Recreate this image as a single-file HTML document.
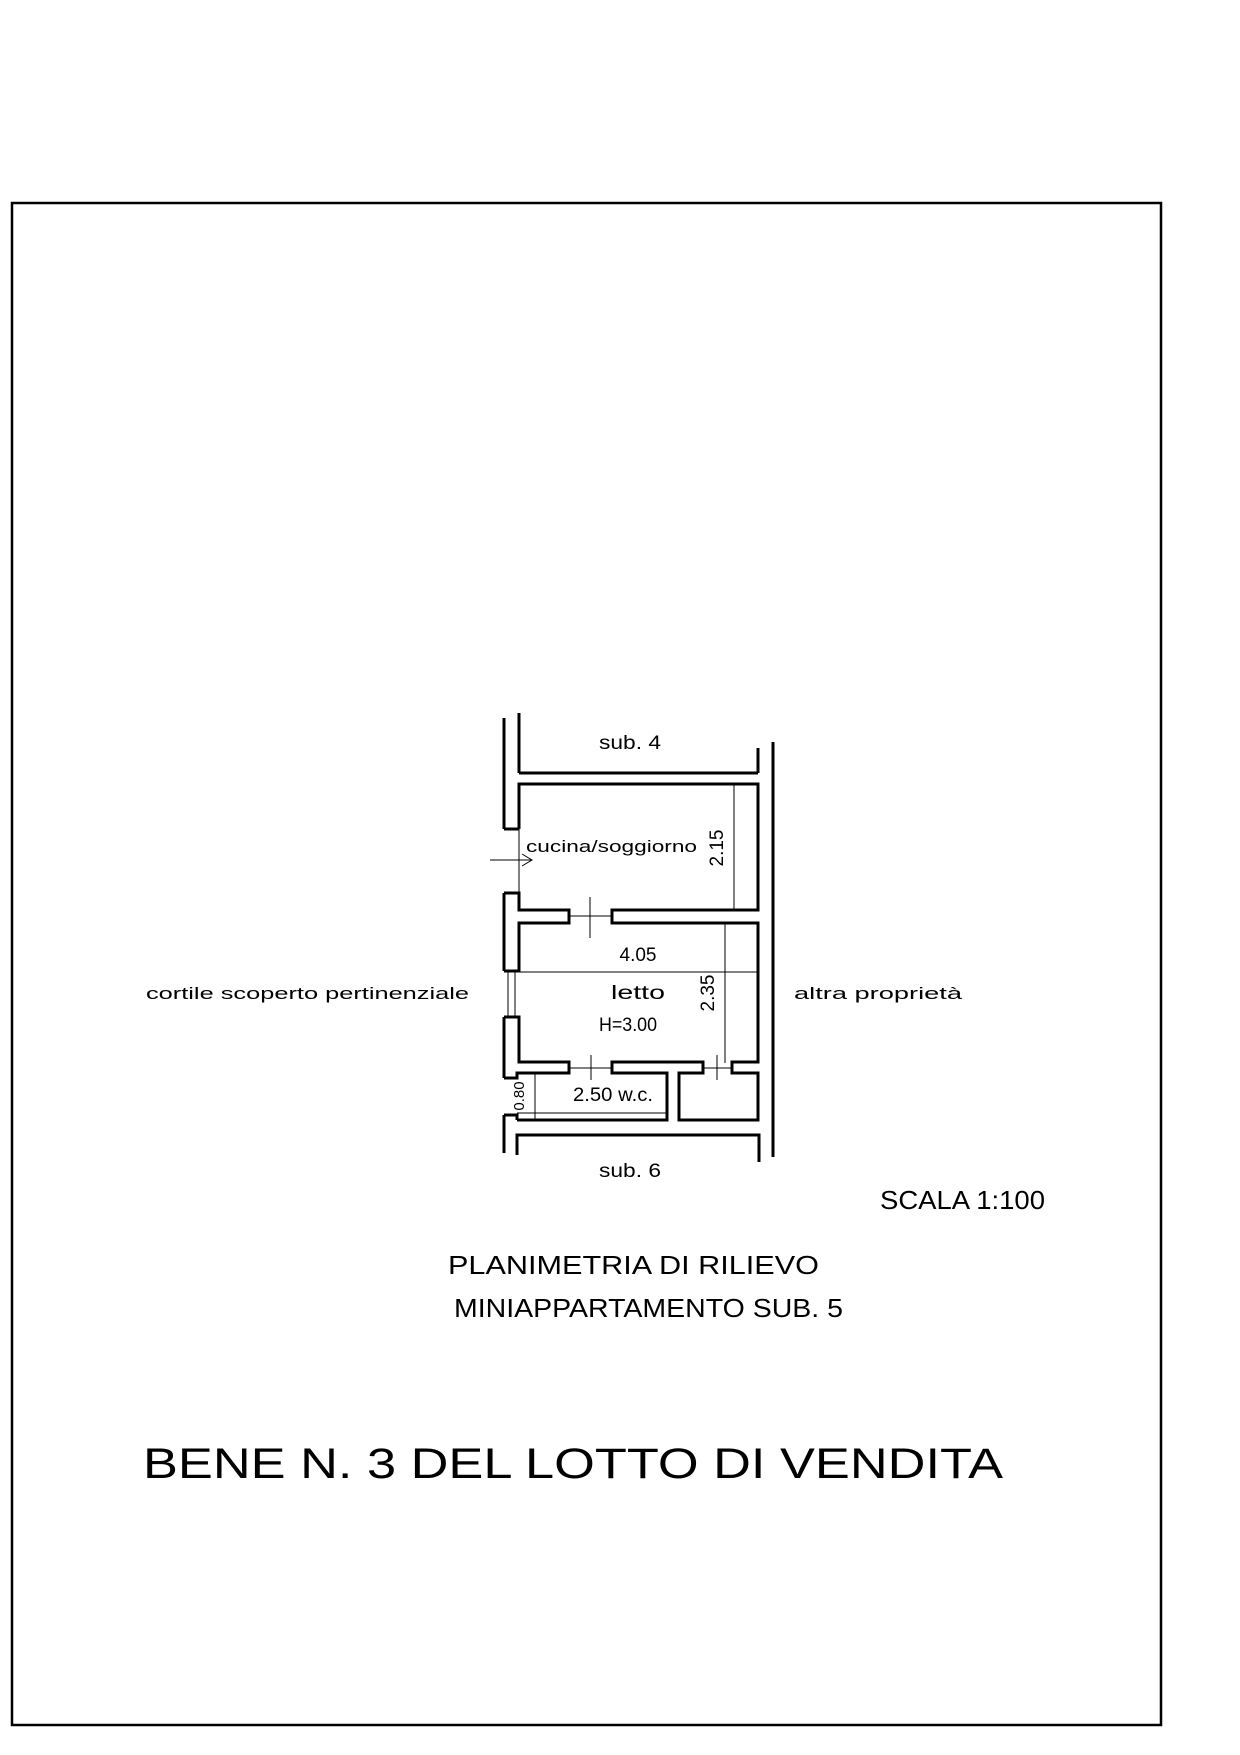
<!DOCTYPE html>
<html><head><meta charset="utf-8"><style>html,body{margin:0;padding:0;background:#fff}svg{display:block}</style></head>
<body>
<svg width="1240" height="1755" viewBox="0 0 1240 1755" xmlns="http://www.w3.org/2000/svg" font-family="Liberation Sans, sans-serif" fill="#000">
<rect x="12" y="203" width="1149" height="1522" fill="none" stroke="#000" stroke-width="2.5"/>
<g stroke="#000" stroke-width="3" fill="none">
<line x1="504" y1="718" x2="504" y2="829"/>
<line x1="504" y1="893" x2="504" y2="971"/>
<line x1="504" y1="1017" x2="504" y2="1078"/>
<line x1="504" y1="1115" x2="504" y2="1153"/>
<line x1="519" y1="713" x2="519" y2="773"/>
<polyline points="519,829 519,784 758,784 758,910 612,910 612,923 758,923 758,1062 732,1062 732,1073 758,1073 758,1120 679,1120 679,1073 703,1073 703,1062 612,1062 612,1073 667,1073 667,1120 517,1120"/>
<line x1="519" y1="773" x2="758" y2="773"/>
<line x1="758" y1="773" x2="758" y2="748"/>
<polyline points="504,829 519,829"/>
<polyline points="504,893 519,893 519,910 569,910 569,923 519,923 519,971 504,971"/>
<polyline points="504,1017 519,1017 519,1062 569,1062 569,1073 517,1073 517,1078 504,1078"/>
<polyline points="504,1115 517,1115 517,1120"/>
<polyline points="517,1155 517,1135 759,1135 759,1162"/>
<line x1="773" y1="742" x2="773" y2="1157"/>
</g>
<g stroke="#000" stroke-width="1" fill="none">
<line x1="519" y1="829" x2="519" y2="893"/>
<line x1="508" y1="971" x2="508" y2="1017"/><line x1="515" y1="971" x2="515" y2="1017"/>
<line x1="569" y1="916" x2="612" y2="916"/>
<line x1="590" y1="897" x2="590" y2="938"/>
<line x1="569" y1="1068" x2="612" y2="1068"/>
<line x1="591" y1="1055" x2="591" y2="1080"/>
<line x1="703" y1="1068" x2="732" y2="1068"/>
<line x1="717" y1="1055" x2="717" y2="1080"/>
<line x1="490" y1="860" x2="532" y2="860"/>
<polyline points="522,854 532,860 522,866"/>
<line x1="517" y1="972" x2="759" y2="972"/>
<line x1="734" y1="783" x2="734" y2="910"/>
<line x1="725" y1="923" x2="725" y2="1063"/>
<line x1="535" y1="1073" x2="535" y2="1120"/>
<line x1="517" y1="1113" x2="667" y2="1113"/>
</g>
<g font-size="19">
<text x="599" y="749" textLength="62" lengthAdjust="spacingAndGlyphs">sub. 4</text>
<text x="526" y="852" font-size="17" textLength="171" lengthAdjust="spacingAndGlyphs">cucina/soggiorno</text>
<text x="638" y="961" text-anchor="middle" font-size="19">4.05</text>
<text x="611" y="999" textLength="54" lengthAdjust="spacingAndGlyphs">letto</text>
<text x="599" y="1031" textLength="58" lengthAdjust="spacingAndGlyphs">H=3.00</text>
<text x="573" y="1101" textLength="80" lengthAdjust="spacingAndGlyphs">2.50 w.c.</text>
<text x="599" y="1177" textLength="62" lengthAdjust="spacingAndGlyphs">sub. 6</text>
<text x="146" y="999" font-size="17" textLength="323" lengthAdjust="spacingAndGlyphs">cortile scoperto pertinenziale</text>
<text x="794" y="999" font-size="17" textLength="168" lengthAdjust="spacingAndGlyphs">altra proprietà</text>
<text transform="translate(723,848) rotate(-90)" text-anchor="middle" font-size="19">2.15</text>
<text transform="translate(714,993) rotate(-90)" text-anchor="middle" font-size="19">2.35</text>
<text transform="translate(524,1096) rotate(-90)" text-anchor="middle" font-size="15">0.80</text>
</g>
<text x="880" y="1209" font-size="26" textLength="165" lengthAdjust="spacingAndGlyphs">SCALA 1:100</text>
<text x="448" y="1274" font-size="26" textLength="371" lengthAdjust="spacingAndGlyphs">PLANIMETRIA DI RILIEVO</text>
<text x="454" y="1317" font-size="26" textLength="389" lengthAdjust="spacingAndGlyphs">MINIAPPARTAMENTO SUB. 5</text>
<text x="143" y="1478" font-size="43" textLength="860" lengthAdjust="spacingAndGlyphs">BENE N. 3 DEL LOTTO DI VENDITA</text>
</svg>
</body></html>
